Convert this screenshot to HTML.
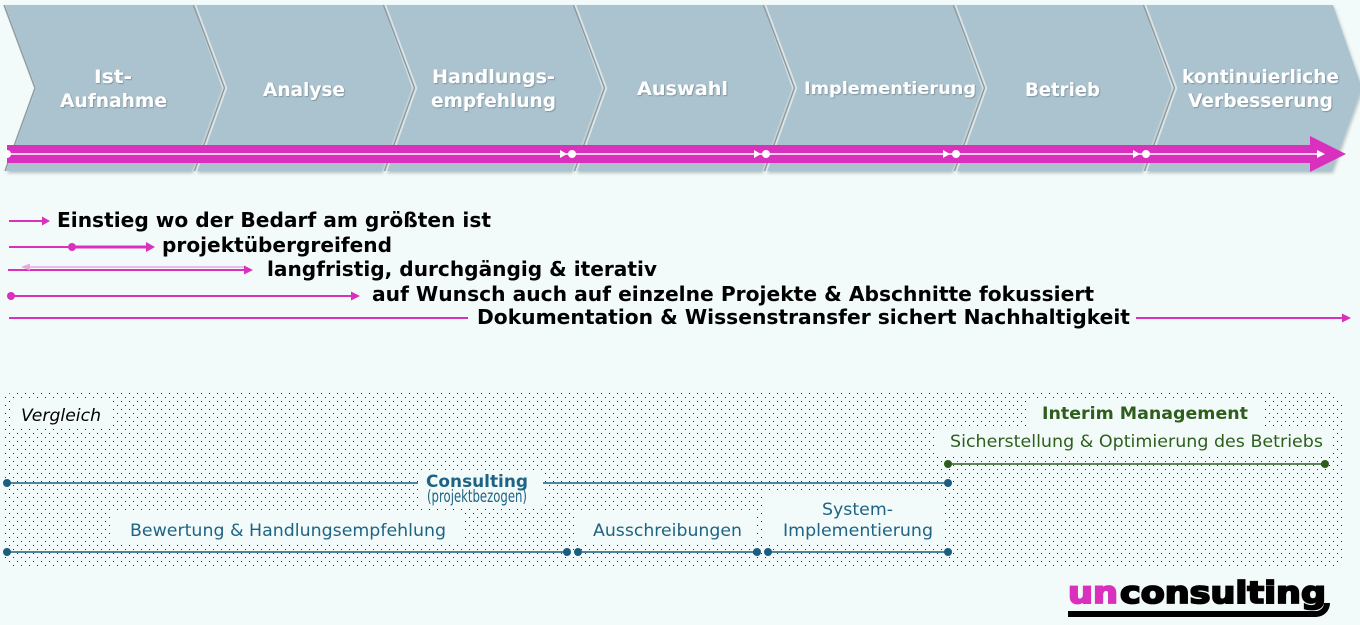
<!DOCTYPE html>
<html><head><meta charset="utf-8"><style>
html,body{margin:0;padding:0;background:#f2fbfa;}
svg{display:block;}
.w{font-family:"DejaVu Sans","Liberation Sans",sans-serif;font-weight:bold;fill:#fff;}
.k{font-family:"DejaVu Sans","Liberation Sans",sans-serif;font-weight:bold;fill:#000;font-size:20px;}
.b{font-family:"DejaVu Sans","Liberation Sans",sans-serif;fill:#1f6384;font-size:17px;}
.g{font-family:"DejaVu Sans","Liberation Sans",sans-serif;fill:#2d5e1c;font-size:17px;}
</style></head><body>
<svg width="1360" height="625" viewBox="0 0 1360 625" xmlns="http://www.w3.org/2000/svg">
<defs>
<pattern id="dots" width="8" height="8" patternUnits="userSpaceOnUse">
<rect x="1" y="1" width="1" height="1" fill="#2a2a2a"/>
<rect x="5" y="5" width="1" height="1" fill="#2a2a2a"/>
</pattern>
<filter id="cs" x="-5%" y="-5%" width="110%" height="115%"><feDropShadow dx="1" dy="2" stdDeviation="1.5" flood-color="#000" flood-opacity="0.25"/></filter>
<filter id="ts"><feDropShadow dx="0.8" dy="0.8" stdDeviation="0.6" flood-color="#000" flood-opacity="0.3"/></filter>
</defs>
<rect width="1360" height="625" fill="#f2fbfa"/>

<!-- chevrons -->
<g filter="url(#cs)" fill="#aac3cf">
<polygon points="5,5 193,5 222,88 192,171 6,171 36,88"/>
<polygon points="195,5 383,5 412,88 382,171 196,171 226,88"/>
<polygon points="385,5 573,5 602,88 572,171 386,171 416,88"/>
<polygon points="575,5 763,5 792,88 762,171 576,171 606,88"/>
<polygon points="765,5 953,5 982,88 952,171 766,171 796,88"/>
<polygon points="955,5 1143,5 1172,88 1142,171 956,171 986,88"/>
<polygon points="1145,5 1333,5 1362,88 1332,171 1146,171 1176,88"/>
</g>
<g fill="none" stroke-width="1.5">
<g stroke="#8d9ca3">
<polyline points="4,5 35,88 5,171"/>
<polyline points="193.5,5 224.5,88 194.5,171"/>
<polyline points="383.5,5 414.5,88 384.5,171"/>
<polyline points="573.5,5 604.5,88 574.5,171"/>
<polyline points="763.5,5 794.5,88 764.5,171"/>
<polyline points="953.5,5 984.5,88 954.5,171"/>
<polyline points="1143.5,5 1174.5,88 1144.5,171"/>
</g>
<g stroke="#dbe4e7">
<polyline points="195.5,5 226.5,88 196.5,171"/>
<polyline points="385.5,5 416.5,88 386.5,171"/>
<polyline points="575.5,5 606.5,88 576.5,171"/>
<polyline points="765.5,5 796.5,88 766.5,171"/>
<polyline points="955.5,5 986.5,88 956.5,171"/>
<polyline points="1145.5,5 1176.5,88 1146.5,171"/>
</g>
</g>

<g class="w" font-size="19" filter="url(#ts)">
<text x="94" y="83" textLength="38" lengthAdjust="spacingAndGlyphs">Ist-</text>
<text x="60" y="107" textLength="107" lengthAdjust="spacingAndGlyphs">Aufnahme</text>
<text x="263" y="96" textLength="82" lengthAdjust="spacingAndGlyphs">Analyse</text>
<text x="432" y="83" textLength="123" lengthAdjust="spacingAndGlyphs">Handlungs-</text>
<text x="431" y="107" textLength="125" lengthAdjust="spacingAndGlyphs">empfehlung</text>
<text x="637" y="95" textLength="91" lengthAdjust="spacingAndGlyphs">Auswahl</text>
<text x="804" y="94" font-size="17" textLength="172" lengthAdjust="spacingAndGlyphs">Implementierung</text>
<text x="1025" y="96" textLength="75" lengthAdjust="spacingAndGlyphs">Betrieb</text>
<text x="1182" y="83" textLength="157" lengthAdjust="spacingAndGlyphs">kontinuierliche</text>
<text x="1188" y="107" textLength="145" lengthAdjust="spacingAndGlyphs">Verbesserung</text>
</g>

<!-- magenta band -->
<rect x="7" y="145" width="1304" height="18" fill="#d930bd"/>
<polygon points="1310,136 1346,154 1310,172" fill="#d930bd"/>
<line x1="7" y1="154" x2="1318" y2="154" stroke="#fff" stroke-width="1.5"/>
<g fill="#fff">
<circle cx="7" cy="154" r="4"/>
<polygon points="560,150 567,154 560,158"/><circle cx="572" cy="154" r="4"/>
<polygon points="754,150 761,154 754,158"/><circle cx="766" cy="154" r="4"/>
<polygon points="943,150 950,154 943,158"/><circle cx="956" cy="154" r="4"/>
<polygon points="1133,150 1140,154 1133,158"/><circle cx="1146" cy="154" r="4"/>
<polygon points="1317,150 1325,154 1317,158"/>
</g>

<!-- rows -->
<g stroke="#d930bd" stroke-width="2" fill="none">
<line x1="9" y1="221" x2="44" y2="221"/>
<line x1="9" y1="247" x2="72" y2="247"/>
<line x1="72" y1="247" x2="148" y2="247" stroke-width="3"/>
<line x1="8" y1="270" x2="246" y2="270"/>
<line x1="11" y1="296" x2="352" y2="296"/>
<line x1="9" y1="318" x2="468" y2="318"/>
<line x1="1136" y1="318" x2="1344" y2="318"/>
</g>
<line x1="26" y1="267" x2="246" y2="267" stroke="#e9a6df" stroke-width="1.5"/>
<polygon points="21,267 30,263.5 30,270.5" fill="#e9a6df"/>
<g fill="#d930bd">
<polygon points="42,216.5 50,221 42,225.5"/>
<circle cx="72" cy="247" r="4"/>
<polygon points="146,242 155,247 146,252"/>
<polygon points="244,265.5 253,270 244,274.5"/>
<circle cx="11" cy="296" r="4"/>
<polygon points="351,291.5 360,296 351,300.5"/>
<polygon points="1342,313.5 1351,318 1342,322.5"/>
</g>
<g class="k">
<text x="57" y="227" textLength="434" lengthAdjust="spacingAndGlyphs">Einstieg wo der Bedarf am größten ist</text>
<text x="162" y="252" textLength="230" lengthAdjust="spacingAndGlyphs">projektübergreifend</text>
<text x="267" y="276" textLength="390" lengthAdjust="spacingAndGlyphs">langfristig, durchgängig &amp; iterativ</text>
<text x="372" y="301" textLength="722" lengthAdjust="spacingAndGlyphs">auf Wunsch auch auf einzelne Projekte &amp; Abschnitte fokussiert</text>
<text x="477" y="324" textLength="653" lengthAdjust="spacingAndGlyphs">Dokumentation &amp; Wissenstransfer sichert Nachhaltigkeit</text>
</g>

<!-- comparison box -->
<rect x="2" y="393" width="1340" height="174" rx="10" fill="url(#dots)"/>
<g fill="#f2fbfa">
<rect x="10" y="398" width="101" height="30"/>
<rect x="1027" y="400" width="236" height="26"/>
<rect x="937" y="427" width="393" height="28"/>
<rect x="418" y="471" width="124" height="36"/>
<rect x="111" y="513" width="352" height="30"/>
<rect x="575" y="513" width="180" height="30"/>
<rect x="763" y="493" width="179" height="50"/>
</g>

<text x="21" y="421" font-family="DejaVu Sans, Liberation Sans, sans-serif" font-style="italic" font-size="17" fill="#000" textLength="80" lengthAdjust="spacingAndGlyphs">Vergleich</text>
<text class="g" x="1042" y="419" font-weight="bold" textLength="206" lengthAdjust="spacingAndGlyphs">Interim Management</text>
<text class="g" x="950" y="447" textLength="373" lengthAdjust="spacingAndGlyphs">Sicherstellung &amp; Optimierung des Betriebs</text>

<line x1="948" y1="464" x2="1325" y2="464" stroke="#2d5e1c" stroke-width="1.5"/>
<circle cx="948" cy="464" r="4" fill="#2d5e1c"/><circle cx="1325" cy="464" r="4" fill="#2d5e1c"/>

<g stroke="#1b5e80" stroke-width="1.5">
<line x1="7" y1="483" x2="418" y2="483"/>
<line x1="543" y1="483" x2="948" y2="483"/>
<line x1="7" y1="552" x2="567" y2="552"/>
<line x1="578" y1="552" x2="757" y2="552"/>
<line x1="768" y1="552" x2="948" y2="552"/>
</g>
<g fill="#1b5e80">
<circle cx="7" cy="483" r="4"/><circle cx="948" cy="483" r="4"/>
<circle cx="7" cy="552" r="4"/><circle cx="567" cy="552" r="4"/><circle cx="578" cy="552" r="4"/>
<circle cx="757" cy="552" r="4"/><circle cx="768" cy="552" r="4"/><circle cx="948" cy="552" r="4"/>
</g>
<text class="b" x="426" y="487" font-weight="bold" textLength="102" lengthAdjust="spacingAndGlyphs">Consulting</text>
<text class="b" x="427" y="502" font-size="11" textLength="100" lengthAdjust="spacingAndGlyphs">(projektbezogen)</text>
<text class="b" x="130" y="536" textLength="316" lengthAdjust="spacingAndGlyphs">Bewertung &amp; Handlungsempfehlung</text>
<text class="b" x="593" y="536" textLength="149" lengthAdjust="spacingAndGlyphs">Ausschreibungen</text>
<text class="b" x="822" y="515" textLength="71" lengthAdjust="spacingAndGlyphs">System-</text>
<text class="b" x="783" y="536" textLength="150" lengthAdjust="spacingAndGlyphs">Implementierung</text>

<!-- logo -->
<text x="1068" y="603" font-family="DejaVu Sans, Liberation Sans, sans-serif" font-weight="bold" font-size="30" fill="#d930bd" stroke="#d930bd" stroke-width="1.8" textLength="50" lengthAdjust="spacingAndGlyphs">un</text>
<text x="1120" y="603" font-family="DejaVu Sans, Liberation Sans, sans-serif" font-weight="bold" font-size="30" fill="#000" stroke="#000" stroke-width="1.8" textLength="206" lengthAdjust="spacingAndGlyphs">consulting</text>
<path d="M1068 611 H1316 A8 8 0 0 0 1324 603 L1330 603 A14 14 0 0 1 1316 617 H1068 Z" fill="#000"/>
</svg>
</body></html>
